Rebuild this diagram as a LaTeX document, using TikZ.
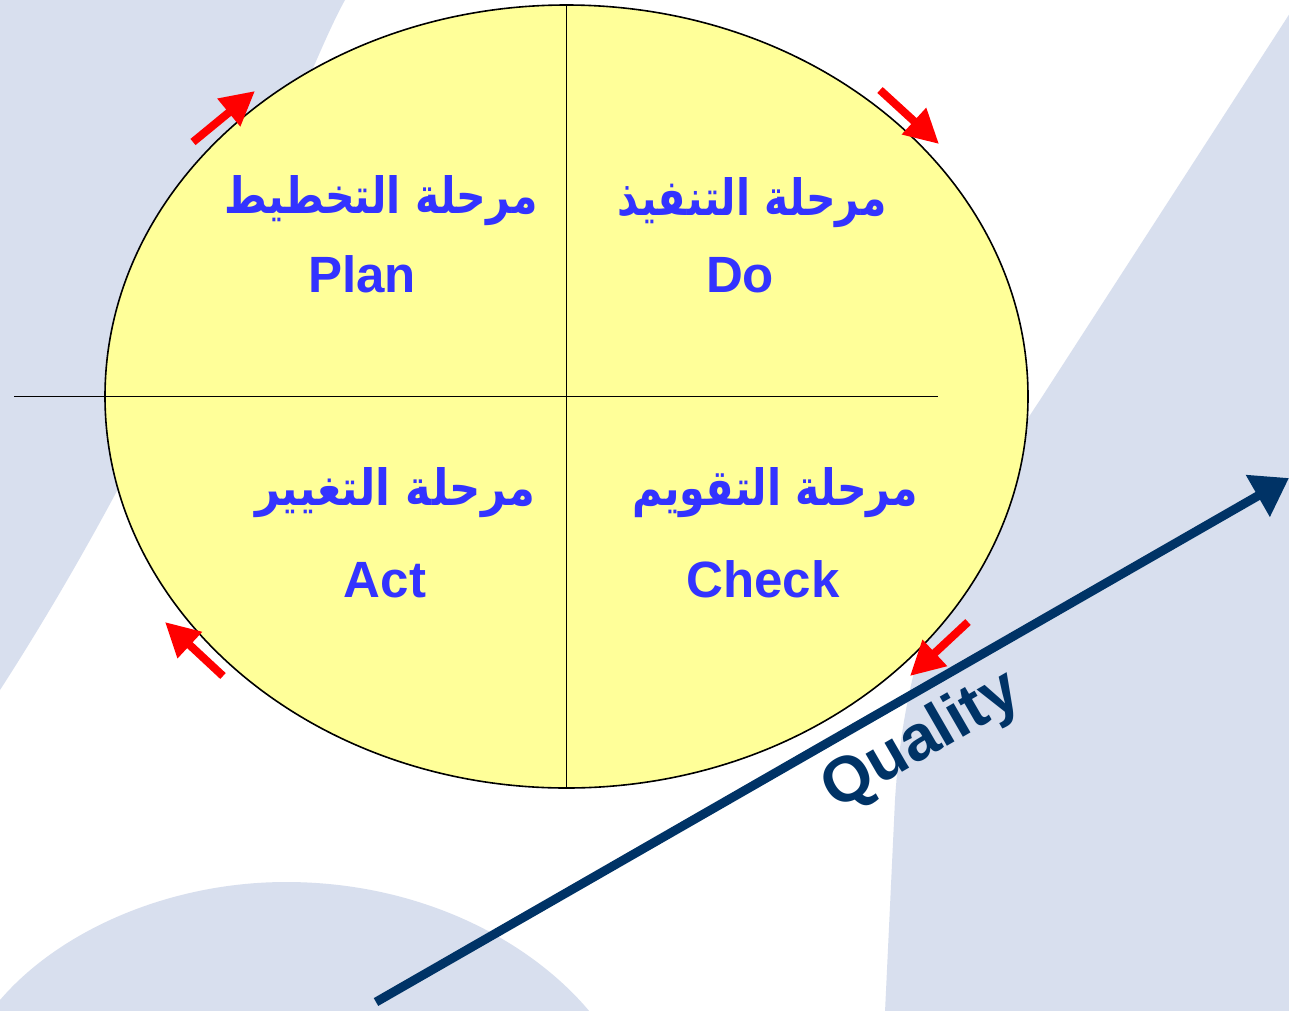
\documentclass[tikz,border=0pt]{standalone}
\usepackage{fontspec}
\setmainfont{Liberation Sans}
\newfontfamily\arabicfont[Script=Arabic]{DejaVu Sans}
\TeXXeTstate=1
\usetikzlibrary{arrows.meta,shapes.geometric}
\definecolor{bgblue}{RGB}{216,223,238}
\definecolor{cyclefill}{RGB}{255,255,153}
\definecolor{labelblue}{RGB}{51,51,255}
\definecolor{navy}{RGB}{0,51,102}
\newcommand{\arbox}[2]{\resizebox{#1}{38pt}{#2}}
\begin{document}
\begin{tikzpicture}[x=1pt,y=-1pt,
  phase/.style={font=\bfseries\fontsize{51}{51}\selectfont, text=labelblue, anchor=base, inner sep=0pt},
  arphase/.style={text=labelblue, anchor=base, inner sep=0pt,
    font=\arabicfont\bfseries\fontsize{40}{40}\selectfont},
  turn/.style={red, line width=8pt, -{Triangle[length=34pt,width=34pt]}},
  divider/.style={black, line width=1.3pt},
  quality/.style={navy, line width=9pt, -{Triangle[length=36pt,width=46pt]}}]
\useasboundingbox (0,0) rectangle (1289,1010);

% backdrop
\begin{scope}
  \clip (0,0) rectangle (1289,1010);
  \fill[white] (0,0) rectangle (1289,1010);
  \fill[bgblue] (0,0) -- (345,0) .. controls (300,80) and (200,380) .. (0,690) -- cycle;
  \fill[bgblue] (0,1000) .. controls (60,930) and (170,882) .. (286,882)
    .. controls (420,882) and (530,940) .. (590,1012) -- (0,1012) -- cycle;
  \fill[bgblue] (1292,10) -- (1040,400) .. controls (960,520) and (905,640) .. (895,800)
    -- (885,1012) -- (1292,1012) -- cycle;
\end{scope}

% the cycle
\node[ellipse, draw, fill=cyclefill, line width=1.6pt, minimum width=923pt,
  minimum height=783pt, inner sep=0pt] (cycle) at (566.5,396.5) {};
\coordinate (hleft) at (14,396.5);
\coordinate (hright) at (938,396.5);
\draw[divider] (hleft) -- (hright);
\draw[divider] (cycle.north) -- (cycle.south);

% phase labels
\node[arphase] (planar) at (381,213) {\arbox{313pt}{\beginR مرحلة التخطيط\endR}};
\node[arphase] (doar) at (752,215) {\arbox{269pt}{\beginR مرحلة التنفيذ\endR}};
\node[arphase] (actar) at (395,505) {\arbox{280pt}{\beginR مرحلة التغيير\endR}};
\node[arphase] (checkar) at (775,505) {\arbox{286pt}{\beginR مرحلة التقويم\endR}};
\node[phase] (plan) at (362,292) {Plan};
\node[phase] (do) at (740,292) {Do};
\node[phase] (act) at (385,597) {Act};
\node[phase] (check) at (763,597) {Check};

% direction of the cycle
\coordinate (p1) at (193,142); \coordinate (p2) at (255,91);
\coordinate (d1) at (880,90);  \coordinate (d2) at (939,144);
\coordinate (c1) at (968,622); \coordinate (c2) at (910,676);
\coordinate (a1) at (223,676); \coordinate (a2) at (165,622);
\draw[turn] (p1) -- (p2);
\draw[turn] (d1) -- (d2);
\draw[turn] (c1) -- (c2);
\draw[turn] (a1) -- (a2);

% quality axis
\coordinate (q1) at (376,1002);
\coordinate (q2) at (1289,478);
\draw[quality] (q1) -- (q2);
\node[navy, font=\bfseries\fontsize{64}{64}\selectfont, rotate=30, anchor=base, inner sep=0pt]
  (qlabel) at (930,756) {Quality};
\end{tikzpicture}
\end{document}
